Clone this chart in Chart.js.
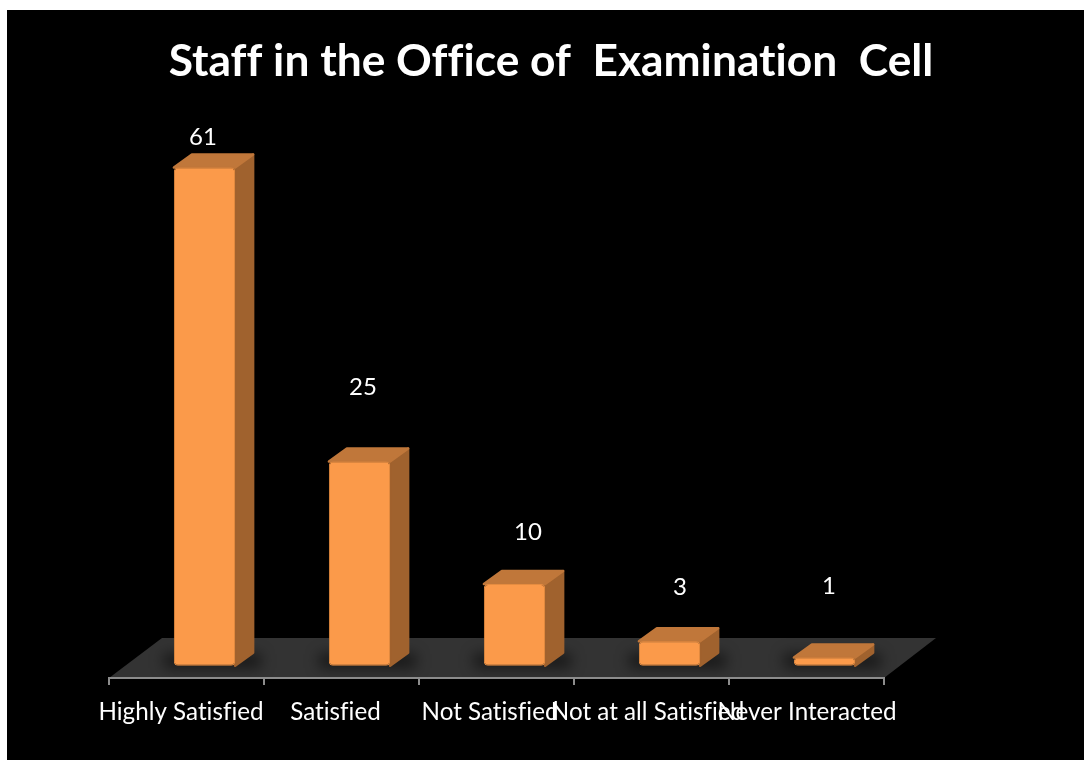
<!DOCTYPE html>
<html>
<head>
<meta charset="utf-8">
<style>
  html, body { margin: 0; padding: 0; background: #fff; }
  canvas { display: block; }
</style>
<script src="https://cdn.jsdelivr.net/npm/chart.js@4"></script>
</head>
<body>
<canvas id="chart" width="1084" height="760"></canvas>
<script>
const categories = ['Highly Satisfied', 'Satisfied', 'Not Satisfied', 'Not at all Satisfied', 'Never Interacted'];
const responses = [61, 25, 10, 3, 1];

const chartTitle = 'Staff in the Office of  Examination  Cell';
const fontFamily = 'Lato, "Open Sans", sans-serif';

// Fake 3D look: depth of the box and how far the bars sit behind the axis
const depthX = 18;
const depthY = 13;
const barShift = 18;
const floorHeight = 40;
const floorSkew = 53;

// The original labels are placed by hand, not centred
const tickNudge = [-5.5, -6, -6.5, -4, 0.5];
const valueLabelNudge = [[16.5, -30], [21.5, -74.5], [31.5, -51.5], [28.5, -53.5], [22.5, -71]];

const polygon = (ctx, pts, color) => {
  ctx.beginPath();
  pts.forEach(([x, y], i) => (i ? ctx.lineTo(x, y) : ctx.moveTo(x, y)));
  ctx.closePath();
  ctx.fillStyle = color;
  ctx.strokeStyle = color;
  ctx.lineWidth = 2.5;
  ctx.lineJoin = 'round';
  ctx.fill();
  ctx.stroke();
};

const fakeBoxes = {
  id: 'fakeBoxes',
  beforeDraw(chart) {
    const { ctx, scales: { x, y } } = chart;
    const bars = chart.getDatasetMeta(0).data;
    const floorBottom = y.bottom;
    const floorTop = floorBottom - floorHeight;

    // tiny spacing switches off the fi/ffi ligatures, the original has none
    ctx.letterSpacing = '0.01px';

    ctx.save();
    // slide background, leaves the white edge at top and left
    ctx.fillStyle = '#000';
    ctx.fillRect(7, 10, chart.width - 7, chart.height - 10);

    // floor
    ctx.beginPath();
    ctx.moveTo(x.left, floorBottom);
    ctx.lineTo(x.left + floorSkew, floorTop);
    ctx.lineTo(x.right + floorSkew - 1, floorTop);
    ctx.lineTo(x.right, floorBottom);
    ctx.closePath();
    ctx.fillStyle = '#333333';
    ctx.fill();

    // soft shadow of each bar on the floor
    ctx.save();
    ctx.clip();
    ctx.filter = 'blur(7px)';
    ctx.fillStyle = 'rgba(0, 0, 0, 0.55)';
    bars.forEach((bar) => {
      const left = bar.x + barShift - bar.width / 2;
      ctx.fillRect(left - 10, bar.base - 12, bar.width + depthX + 18, 14);
    });
    ctx.restore();

    // side and top faces
    bars.forEach((bar) => {
      const left = bar.x + barShift - bar.width / 2;
      const right = left + bar.width;
      polygon(ctx, [[right, bar.y], [right + depthX, bar.y - depthY], [right + depthX, bar.base - depthY], [right, bar.base]], '#A0622E');
      polygon(ctx, [[left, bar.y], [left + depthX, bar.y - depthY], [right + depthX, bar.y - depthY], [right, bar.y]], '#C0773A');
    });
    ctx.restore();

    // move tick labels to where the original has them
    x.getLabelItems(chart.chartArea).forEach((item, i) => {
      if (!item.nudged) {
        item.options.translation[0] += tickNudge[i];
        item.nudged = true;
      }
    });
  },
  beforeDatasetDraw(chart) {
    chart.ctx.save();
    chart.ctx.translate(barShift, 0);
  },
  afterDatasetDraw(chart) {
    chart.ctx.restore();
  },
  afterDatasetsDraw(chart) {
    const { ctx } = chart;
    ctx.save();
    ctx.font = '24px ' + fontFamily;
    ctx.fillStyle = '#fff';
    ctx.textAlign = 'center';
    ctx.textBaseline = 'middle';
    chart.getDatasetMeta(0).data.forEach((bar, i) => {
      ctx.fillText(String(responses[i]), bar.x + valueLabelNudge[i][0], bar.y + valueLabelNudge[i][1]);
    });
    ctx.restore();
  }
};

new Chart(document.getElementById('chart'), {
  type: 'bar',
  data: {
    labels: categories,
    datasets: [{
      data: responses,
      backgroundColor: '#FB9A4A',
      borderColor: '#E58C40',
      borderWidth: 1,
      borderSkipped: false,
      borderRadius: 4,
      categoryPercentage: 1,
      barPercentage: 0.395
    }]
  },
  options: {
    responsive: false,
    animation: false,
    layout: { padding: { left: 18 } },
    plugins: {
      legend: { display: false },
      tooltip: { enabled: false },
      title: {
        display: true,
        text: chartTitle,
        color: '#fff',
        font: { family: fontFamily, size: 44.3, weight: 'bold' },
        padding: { top: 35, bottom: 5.84 }
      }
    },
    scales: {
      x: {
        offset: true,
        afterFit: (scale) => { scale.height = 82; },
        border: { color: '#8C8C8C', width: 2 },
        grid: { drawOnChartArea: false, color: '#8C8C8C', tickLength: 7, lineWidth: 2 },
        ticks: {
          color: '#fff',
          autoSkip: false,
          maxRotation: 0,
          minRotation: 0,
          padding: 13,
          font: { family: fontFamily, size: 24.2 }
        }
      },
      y: {
        min: -1.5,
        max: 70,
        afterFit: (scale) => { scale.width = 91; },
        border: { display: false },
        grid: { display: false },
        ticks: { display: false }
      },
      // only there to keep the space on the right of the plot
      gutter: {
        type: 'linear',
        axis: 'y',
        position: 'right',
        afterFit: (scale) => { scale.width = 200; },
        border: { display: false },
        grid: { display: false },
        ticks: { display: false }
      }
    }
  },
  plugins: [fakeBoxes]
});
</script>
</body>
</html>
